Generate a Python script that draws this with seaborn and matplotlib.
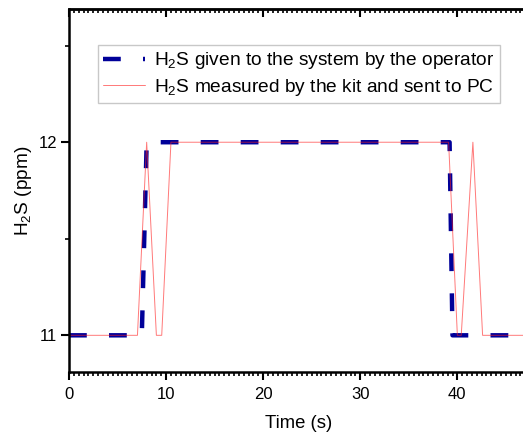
import matplotlib
matplotlib.use("Agg")
import matplotlib.pyplot as plt
import seaborn as sns
import pandas as pd
from matplotlib.ticker import MultipleLocator

# Data
given_t = [0, 7.5, 8.0, 39.2, 39.5, 47.5]
given_h2s = [11, 11, 12, 12, 11, 11]

meas_t = [0, 7.05, 8.0, 9.0, 9.55, 10.5, 39.1, 40.0, 40.4, 41.6, 42.6, 47.5]
meas_h2s = [11, 11, 12, 11, 11, 12, 12, 11, 11, 12, 11, 11]

x_ticks = [0, 10, 20, 30, 40]
y_ticks = [11, 12]

label_given = r"H$_2$S given to the system by the operator"
label_meas = r"H$_2$S measured by the kit and sent to PC"

sns.set_style("white")
plt.rcParams["font.family"] = ["Liberation Sans", "DejaVu Sans"]
plt.rcParams["mathtext.fontset"] = "custom"
plt.rcParams["mathtext.rm"] = "Liberation Sans"
plt.rcParams["mathtext.it"] = "Liberation Sans:italic"
plt.rcParams["text.color"] = "black"
plt.rcParams["axes.labelcolor"] = "black"
plt.rcParams["xtick.color"] = "black"
plt.rcParams["ytick.color"] = "black"

df_g = pd.DataFrame({"t": given_t, "h": given_h2s})
df_m = pd.DataFrame({"t": meas_t, "h": meas_h2s})

fig = plt.figure(figsize=(5.23, 4.32), dpi=100)
ax = fig.add_axes([69 / 523, 60 / 432, 1 - 69 / 523 + 0.01, 363 / 432])

sns.lineplot(data=df_g, x="t", y="h", ax=ax, color="#000099", lw=3.2,
             label=label_given, sort=False, estimator=None)
ax.lines[-1].set_dashes((4, 5))
sns.lineplot(data=df_m, x="t", y="h", ax=ax, color="#ff2020", lw=0.7, alpha=0.6,
             label=label_meas, sort=False, estimator=None)

ax.set_xlim(0, 47.3)
ax.set_ylim(10.81, 12.69)
ax.set_xticks(x_ticks)
ax.set_yticks(y_ticks)
ax.xaxis.set_minor_locator(MultipleLocator(0.5))
ax.yaxis.set_minor_locator(MultipleLocator(0.5))
ax.tick_params(axis="x", which="major", direction="out", length=6, width=1.5,
               top=False, bottom=True, labelsize=12, pad=5)
ax.tick_params(axis="x", which="minor", direction="out", length=3, width=1.2,
               top=False, bottom=True)
ax.tick_params(axis="y", which="major", direction="out", length=6, width=1.5,
               left=True, labelsize=12, pad=2.5)
ax.tick_params(axis="y", which="minor", direction="out", length=3, width=1.2, left=True)

# top ticks pointing inward
sec = ax.secondary_xaxis("top")
sec.set_xticks(x_ticks)
sec.xaxis.set_minor_locator(MultipleLocator(0.5))
sec.tick_params(axis="x", which="major", direction="in", length=6, width=1.5, labeltop=False)
sec.tick_params(axis="x", which="minor", direction="in", length=3, width=1.2)
sec.spines["top"].set_linewidth(1.8)

for s in ["left", "bottom", "top"]:
    ax.spines[s].set_linewidth(1.8)
    ax.spines[s].set_color("black")
ax.spines["right"].set_visible(False)

ax.set_xlabel("Time (s)", fontsize=13.3, labelpad=9)
ax.set_ylabel(r"H$_2$S (ppm)", fontsize=13.7, labelpad=3)

leg = ax.legend(loc="upper left", bbox_to_anchor=(29 / 460, (372 - 45) / 363),
                fontsize=13.8, frameon=True, fancybox=False, handlelength=2.15,
                borderpad=0.28, labelspacing=0.3, handletextpad=0.5, borderaxespad=0)
leg.get_frame().set_edgecolor("#bbbbbb")
leg.get_frame().set_linewidth(1.0)

fig.savefig("out.png", dpi=100)
